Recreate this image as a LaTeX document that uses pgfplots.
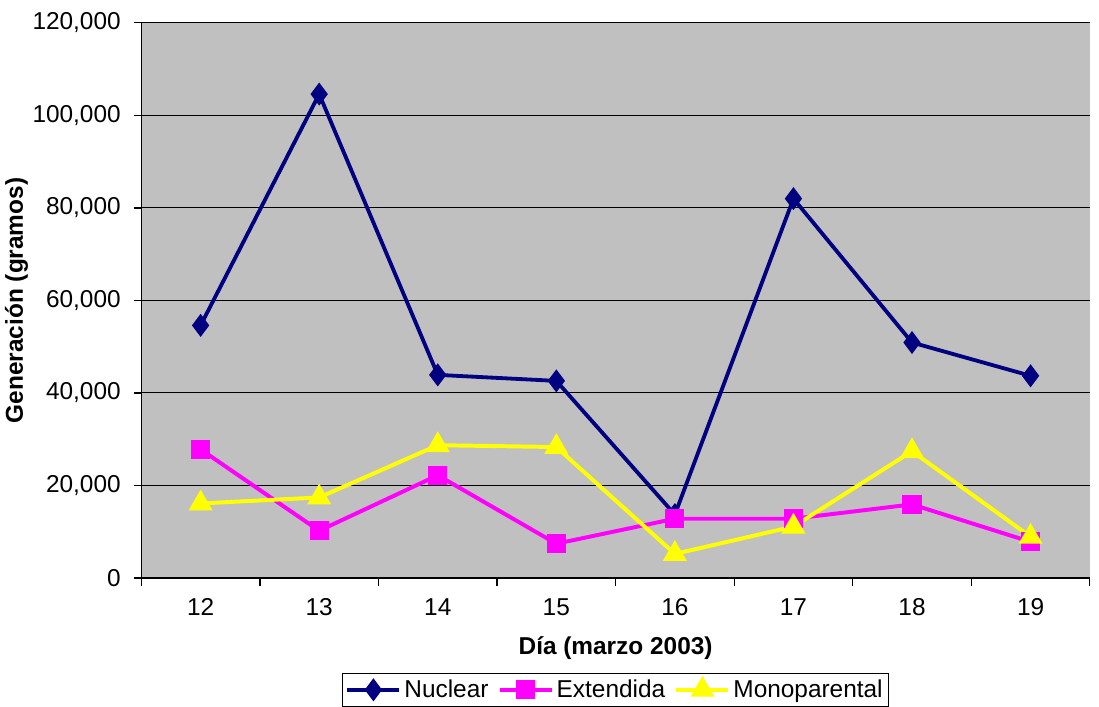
\documentclass[border=0pt]{standalone}
\usepackage{pgfplots}
\pgfplotsset{compat=1.18}
\usepackage{fontspec}
\setmainfont{Liberation Sans}
\definecolor{navyline}{RGB}{0,0,128}
\definecolor{pinkline}{RGB}{255,0,255}
\definecolor{yellowline}{RGB}{255,255,0}
\definecolor{plotbg}{RGB}{192,192,192}
\begin{document}
\begin{tikzpicture}
\begin{axis}[
    scale only axis,
    width=622pt, height=364pt,
    xmin=-0.5, xmax=7.5,
    ymin=0, ymax=120000,
    ytick={0,20000,...,120000},
    xtick={0,...,7},
    xticklabels={12,13,14,15,16,17,18,19},
    minor xtick={-0.5,0.5,...,7.5},
    major x tick style={draw=none},
    minor x tick style={black, thick},
    minor tick length=5pt,
    tick align=outside,
    major tick length=5pt,
    y tick style={black, thick},
    axis x line*=bottom, axis y line*=left,
    axis line style={black, thick, -},
    axis background/.style={fill=plotbg},
    ymajorgrids,
    grid style={black, line width=0.6pt},
    font=\fontsize{16}{19}\selectfont,
    tick label style={font=\fontsize{16}{19}\selectfont},
    xticklabel style={yshift=-5pt},
    yticklabel style={xshift=-5pt, /pgf/number format/.cd, fixed, 1000 sep={,}},
    /pgf/number format/assume math mode=true,
    scaled y ticks=false,
    xlabel={\bfseries Día (marzo 2003)},
    ylabel={\bfseries Generación (gramos)},
    xlabel style={yshift=-7pt},
    ylabel style={yshift=-4pt},
    legend style={
        at={(0.5,-0.172)}, anchor=north,
        legend columns=3,
        draw=black, fill=white,
        font=\fontsize{16}{19}\selectfont,
        /tikz/every even column/.append style={column sep=4pt},
        inner sep=2pt,
    },
    legend image code/.code={
        \draw[mark repeat=2, mark phase=2] plot coordinates {(0cm,0cm) (0.6cm,0cm) (1.2cm,0cm)};
    },
    legend cell align=left,
]
\addplot[navyline, line width=2.5pt, mark=diamond*, mark size=5.5pt,
    mark options={solid, fill=navyline}] coordinates {
    (0,54600) (1,104600) (2,43900) (3,42600) (4,13700) (5,82000) (6,50900) (7,43700)
};
\addplot[pinkline, line width=2.6pt, mark=square*, mark size=5pt,
    mark options={solid, fill=pinkline}] coordinates {
    (0,27800) (1,10200) (2,22200) (3,7400) (4,12800) (5,12800) (6,15900) (7,7800)
};
\addplot[yellowline, line width=2.6pt, mark=triangle*, mark size=6.5pt,
    mark options={solid, fill=yellowline}] coordinates {
    (0,16100) (1,17400) (2,28700) (3,28300) (4,5200) (5,11100) (6,27400) (7,8900)
};
\legend{Nuclear, Extendida, Monoparental}
\end{axis}
\path ([xshift=6pt, yshift=15pt]current axis.north east);
\end{tikzpicture}
\end{document}
